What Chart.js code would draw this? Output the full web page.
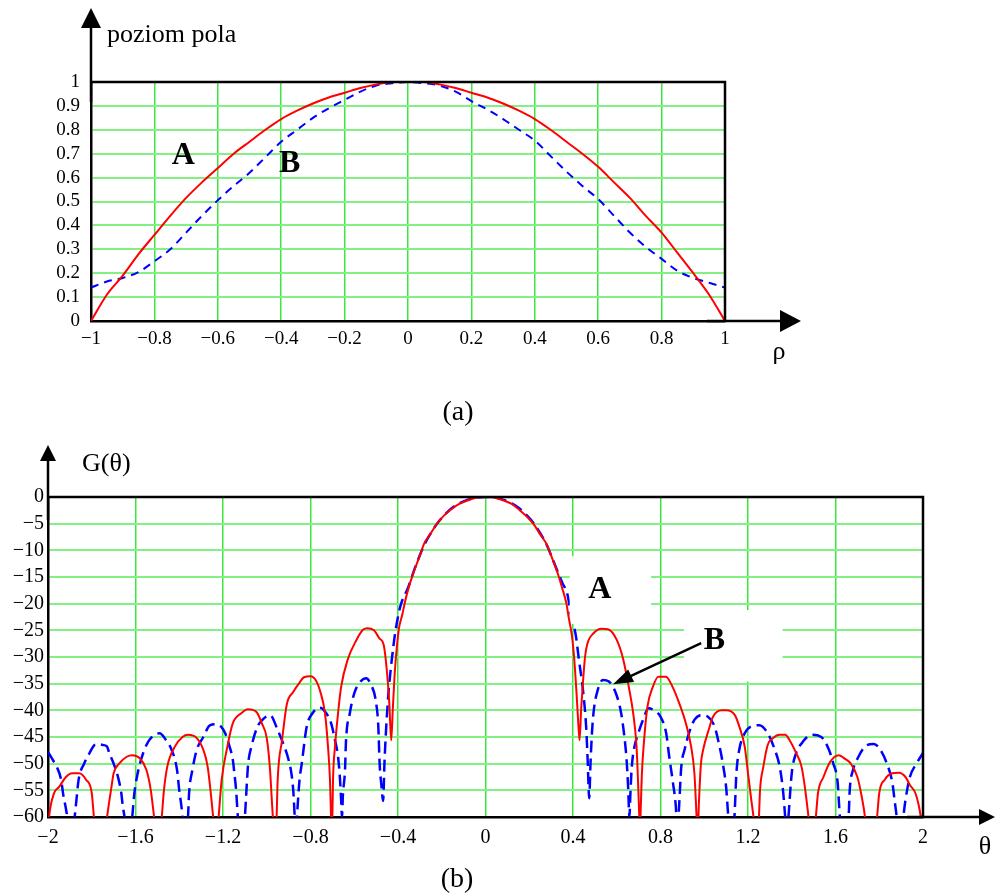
<!DOCTYPE html>
<html>
<head>
<meta charset="utf-8">
<script src="https://cdn.jsdelivr.net/npm/chart.js@4.4.1/dist/chart.umd.min.js"></script>
<style>
  html, body { margin: 0; padding: 0; background: #fff; }
  #wrap { position: relative; width: 995px; height: 895px; }
  canvas { position: absolute; left: 0; }
  #chartA { top: 0; }
  #chartB { top: 440px; }
</style>
</head>
<body>
<div id="wrap">
  <canvas id="chartA" width="995" height="440"></canvas>
  <canvas id="chartB" width="995" height="455"></canvas>
</div>
<script>
const SERIF = '"Liberation Serif", "Times New Roman", serif';
const RED = '#ff0000';
const BLUE = '#0000ff';
const GRID_V = '#3de83d';
const GRID_H = '#84f084';

// (a) field level across the aperture
const rhoValues = [-1, -0.95, -0.9, -0.85, -0.8, -0.75, -0.7, -0.65, -0.6, -0.55, -0.5, -0.45, -0.4, -0.35, -0.3, -0.25, -0.2, -0.15, -0.1, -0.05,
  0, 0.05, 0.1, 0.15, 0.2, 0.25, 0.3, 0.35, 0.4, 0.45, 0.5, 0.55, 0.6, 0.65, 0.7, 0.75, 0.8, 0.85, 0.9, 0.95, 1];
const levelA = [0, 0.11, 0.19, 0.28, 0.36, 0.44, 0.515, 0.58, 0.64, 0.70, 0.75, 0.80, 0.845, 0.88, 0.91, 0.935, 0.955, 0.975, 0.99, 1.0,
  1.0, 1.0, 0.99, 0.975, 0.955, 0.935, 0.91, 0.88, 0.845, 0.80, 0.75, 0.70, 0.645, 0.58, 0.515, 0.44, 0.37, 0.285, 0.20, 0.11, 0];
const levelB = [0.14, 0.165, 0.18, 0.205, 0.25, 0.30, 0.37, 0.44, 0.505, 0.565, 0.62, 0.685, 0.75, 0.80, 0.85, 0.89, 0.925, 0.96, 0.985, 0.995,
  1.0, 0.995, 0.985, 0.96, 0.92, 0.885, 0.845, 0.80, 0.755, 0.69, 0.625, 0.565, 0.51, 0.44, 0.37, 0.31, 0.26, 0.21, 0.18, 0.16, 0.14];
const rhoTicks = [-1, -0.8, -0.6, -0.4, -0.2, 0, 0.2, 0.4, 0.6, 0.8, 1];
const levelTicks = [0, 0.1, 0.2, 0.3, 0.4, 0.5, 0.6, 0.7, 0.8, 0.9, 1];

// (b) radiation pattern G(theta), dB
const thetaA = [
  -2.00, -1.995, -1.972, -1.95, -1.918, -1.89, -1.858, -1.826, -1.80, -1.79,
  -1.76, -1.73, -1.71, -1.70, -1.675, -1.64, -1.615, -1.58, -1.55, -1.53,
  -1.515, -1.497, -1.48, -1.47, -1.455, -1.42, -1.385, -1.36, -1.32, -1.29,
  -1.27, -1.245, -1.232, -1.22, -1.206, -1.18, -1.155, -1.115, -1.087, -1.047,
  -1.023, -1.00, -0.986, -0.972, -0.963, -0.955, -0.95, -0.93, -0.908, -0.88,
  -0.85, -0.83, -0.80, -0.775, -0.755, -0.734, -0.72, -0.711, -0.706, -0.703, -0.70,
  -0.697, -0.688, -0.674, -0.66, -0.63, -0.59, -0.56, -0.54, -0.51, -0.485,
  -0.465, -0.45, -0.44, -0.431, -0.424, -0.415, -0.405, -0.395, -0.38, -0.37,
  -0.35, -0.33, -0.30, -0.28, -0.25, -0.22, -0.19, -0.16, -0.12, -0.08,
  -0.04, 0,
  0.04, 0.08, 0.12, 0.16, 0.19, 0.22, 0.25, 0.28, 0.30, 0.33,
  0.35, 0.37, 0.38, 0.395, 0.405, 0.415, 0.425, 0.43, 0.437, 0.445,
  0.455, 0.465, 0.495, 0.53, 0.56, 0.60, 0.63, 0.655, 0.675, 0.69,
  0.697, 0.703, 0.706, 0.71, 0.715, 0.725, 0.74, 0.765, 0.79, 0.825,
  0.855, 0.885, 0.915, 0.94, 0.955, 0.965, 0.97, 0.975, 0.985, 0.995,
  1.02, 1.04, 1.08, 1.10, 1.14, 1.16, 1.185, 1.20, 1.215, 1.225,
  1.237, 1.25, 1.255, 1.27, 1.29, 1.315, 1.345, 1.37, 1.39, 1.42,
  1.445, 1.46, 1.475, 1.49, 1.51, 1.52, 1.545, 1.575, 1.615, 1.64,
  1.67, 1.70, 1.72, 1.735, 1.76, 1.79, 1.80, 1.825, 1.86, 1.89,
  1.92, 1.94, 1.965, 1.98, 1.99, 2.00
];
const gainA = [
  -63, -60, -55.5, -54.4, -52.5, -51.8, -51.8, -53, -55.5, -60,
  -70, -60, -54.4, -51.8, -50, -48.7, -48.4, -49, -51.2, -55,
  -60, -66, -60, -55, -50.6, -46.8, -45, -44.6, -45.2, -47.4,
  -50.6, -60, -66, -60, -53, -46.8, -42.4, -40.5, -39.8, -40.3,
  -42.4, -45.2, -50.6, -60, -64, -60, -53, -45.6, -38.8, -36.6,
  -34.8, -33.8, -33.6, -34.4, -36.5, -40.5, -46.8, -53, -60, -63, -60,
  -53, -46.8, -40.5, -35.6, -30.5, -26.8, -24.9, -24.6, -25, -26.5,
  -27.8, -33, -38.5, -45.6, -40, -33, -28, -24.5, -22, -20,
  -16.8, -14.3, -11, -8.7, -6.8, -4.9, -3.5, -2.4, -1.3, -0.6,
  -0.1, 0,
  -0.1, -0.6, -1.3, -2.6, -3.7, -5.1, -7, -8.9, -11, -14.3,
  -17, -20, -22.5, -26, -30, -36, -43, -45.6, -40, -35,
  -30, -27.6, -25.5, -24.7, -24.8, -26.8, -30.5, -35.6, -40.5, -46.5,
  -53, -60, -63, -58, -51.8, -45.6, -39.4, -35.6, -33.7, -33.7,
  -35.6, -38.6, -42.3, -46.8, -51.8, -60, -64, -58, -50, -47.4,
  -43.7, -41.2, -40, -40, -40.9, -43, -46.8, -51.8, -56.8, -60,
  -66, -60, -55, -50.6, -46.5, -45.2, -44.6, -44.6, -45.6, -48,
  -50.6, -54.4, -59.4, -65, -60, -55.5, -52.5, -49.7, -48.4, -49,
  -50, -52.5, -56.2, -60, -70, -60, -55.5, -53, -51.8, -51.7,
  -52.5, -54, -55.5, -57.7, -60, -63
];
const thetaB = [
  -2.00, -1.975, -1.96, -1.94, -1.93, -1.92, -1.912, -1.895, -1.878, -1.87,
  -1.86, -1.835, -1.81, -1.79, -1.775, -1.75, -1.73, -1.72, -1.70, -1.68,
  -1.665, -1.658, -1.65, -1.632, -1.615, -1.605, -1.59, -1.575, -1.55, -1.53,
  -1.49, -1.46, -1.435, -1.41, -1.40, -1.39, -1.385, -1.372, -1.36, -1.355,
  -1.34, -1.32, -1.29, -1.26, -1.23, -1.21, -1.19, -1.17, -1.155, -1.148,
  -1.14, -1.132, -1.115, -1.10, -1.09, -1.085, -1.07, -1.045, -1.02, -0.985,
  -0.95, -0.925, -0.90, -0.885, -0.878, -0.872, -0.866, -0.862, -0.85, -0.84,
  -0.817, -0.79, -0.76, -0.743, -0.706, -0.688, -0.674, -0.665, -0.66, -0.656,
  -0.652, -0.642, -0.638, -0.62, -0.60, -0.575, -0.546, -0.527, -0.50, -0.49,
  -0.484, -0.476, -0.468, -0.462, -0.455, -0.445, -0.435, -0.427, -0.413, -0.39,
  -0.353, -0.32, -0.28, -0.25, -0.22, -0.19, -0.16, -0.12, -0.08, -0.04,
  0,
  0.04, 0.08, 0.12, 0.16, 0.19, 0.22, 0.25, 0.28, 0.32, 0.35,
  0.376, 0.39, 0.413, 0.427, 0.445, 0.46, 0.467, 0.474, 0.48, 0.487,
  0.495, 0.513, 0.537, 0.564, 0.596, 0.62, 0.633, 0.645, 0.652, 0.658,
  0.662, 0.668, 0.68, 0.697, 0.72, 0.745, 0.77, 0.80, 0.826, 0.84,
  0.857, 0.87, 0.877, 0.885, 0.895, 0.91, 0.93, 0.955, 0.986, 1.017,
  1.047, 1.07, 1.085, 1.10, 1.11, 1.124, 1.138, 1.147, 1.16, 1.185,
  1.215, 1.252, 1.29, 1.32, 1.345, 1.36, 1.37, 1.378, 1.385, 1.40,
  1.42, 1.445, 1.49, 1.535, 1.57, 1.59, 1.61, 1.615, 1.62, 1.64,
  1.66, 1.665, 1.68, 1.705, 1.735, 1.775, 1.80, 1.835, 1.86, 1.87,
  1.88, 1.895, 1.91, 1.92, 1.94, 1.97, 2.00
];
const gainB = [
  -47.8, -49.5, -50.6, -53, -55.9, -58, -60, -66, -60, -56.8,
  -53, -50, -48, -46.6, -46.3, -46.5, -46.8, -48, -50, -52.5,
  -55.5, -58, -60, -66, -60, -55.5, -51.8, -49.3, -46.5, -45.2,
  -44.3, -45.6, -47.4, -51.2, -55, -58, -60, -65, -60, -55.5,
  -51.2, -47.4, -45, -42.8, -42.6, -43, -44.3, -46.8, -49.3, -51.8,
  -55, -60, -66, -60, -53, -50, -46.8, -43.3, -41.8, -40.9,
  -43.7, -46.2, -49.3, -52.5, -55.5, -60, -63, -60, -53, -50,
  -43, -40.5, -39.5, -39.8, -42.4, -45.6, -48.7, -53, -56.8, -60,
  -56, -51, -46, -40.5, -36.8, -34.8, -34, -34.9, -38.6, -43,
  -50, -54, -57, -50, -44, -37.5, -33, -30, -25.5, -20.6,
  -16.9, -13, -9, -6.8, -4.9, -3.5, -2.3, -1.2, -0.5, -0.1,
  0,
  -0.1, -0.5, -1.2, -2.3, -3.5, -4.9, -6.8, -9, -13, -16,
  -18.5, -22, -26, -30.5, -36, -43, -49.3, -56.5, -50, -44,
  -40, -36.2, -34.3, -34.6, -36.8, -40.5, -44.3, -49.3, -54.4, -60,
  -56, -51, -47, -44.5, -41.8, -39.6, -40, -41.2, -44.3, -48.7,
  -53.6, -58, -63, -58, -50.6, -47.4, -44.3, -41.8, -40.9, -41.2,
  -43, -46.8, -50, -54.4, -60, -66, -60, -51.8, -47.4, -44.3,
  -43, -42.8, -44.3, -47.1, -50.6, -55, -60, -64, -60, -51.8,
  -48, -46.2, -44.6, -45, -47.4, -50, -53.6, -56.8, -60, -66,
  -60, -55, -51.2, -48.7, -46.8, -46.3, -47.1, -50, -53.6, -56.8,
  -60, -65, -60, -56.8, -52.5, -50, -48
];
const thetaTicks = [-2, -1.6, -1.2, -0.8, -0.4, 0, 0.4, 0.8, 1.2, 1.6, 2];
const gainTicks = [0, -5, -10, -15, -20, -25, -30, -35, -40, -45, -50, -55, -60];

const toPoints = (xs, ys) => xs.map((x, i) => ({ x: x, y: ys[i] }));
const fmt = v => String(v).replace('-', '\u2212');

function arrowHead(ctx, tipX, tipY, dx, dy, len, half) {
  // dx, dy: unit direction the arrow points to
  const bx = tipX - dx * len, by = tipY - dy * len;
  ctx.beginPath();
  ctx.moveTo(tipX, tipY);
  ctx.lineTo(bx - dy * half, by + dx * half);
  ctx.lineTo(bx + dy * half, by - dx * half);
  ctx.closePath();
  ctx.fill();
}

function line(ctx, x1, y1, x2, y2, w) {
  ctx.lineWidth = w;
  ctx.beginPath();
  ctx.moveTo(x1, y1);
  ctx.lineTo(x2, y2);
  ctx.stroke();
}

function text(ctx, str, x, y, font, align, baseline) {
  ctx.font = font;
  ctx.textAlign = align || 'center';
  ctx.textBaseline = baseline || 'middle';
  ctx.fillText(str, x, y);
}

function axisOpts(ticks, size, padding, extra) {
  return Object.assign({
    type: 'linear',
    min: Math.min(...ticks),
    max: Math.max(...ticks),
    afterBuildTicks: s => { s.ticks = ticks.map(v => ({ value: v })); },
    border: { display: true, color: '#000', width: 2.5 },
    ticks: {
      autoSkip: false, maxRotation: 0, color: '#000', padding: padding,
      font: { family: SERIF, size: size },
      callback: v => fmt(v)
    }
  }, extra);
}

// ---------- chart (a) ----------
const framePluginA = {
  id: 'frameA',
  afterDraw(chart) {
    const { ctx, chartArea: a, scales } = chart;
    const { x, y } = scales;
    ctx.save();
    ctx.strokeStyle = '#000';
    ctx.fillStyle = '#000';
    ctx.lineWidth = 2.5;
    ctx.beginPath();
    ctx.moveTo(a.left, a.top);
    ctx.lineTo(a.right, a.top);
    ctx.lineTo(a.right, a.bottom);
    ctx.stroke();
    // vertical arrow
    line(ctx, a.left, a.top - 56, a.left, a.top + 20, 2.5);
    arrowHead(ctx, a.left, a.top - 74, 0, -1, 20, 10);
    // horizontal arrow
    line(ctx, a.right - 18, a.bottom, a.right + 58, a.bottom, 2.5);
    arrowHead(ctx, a.right + 76, a.bottom, 1, 0, 21, 11);
    text(ctx, 'poziom pola', a.left + 16, 42, '26px ' + SERIF, 'left', 'alphabetic');
    text(ctx, '\u03c1', a.right + 54, 352, '26px ' + SERIF);
    text(ctx, '(a)', 458, 413, '28px ' + SERIF);
    text(ctx, 'A', x.getPixelForValue(-0.709), y.getPixelForValue(0.69), 'bold 32px ' + SERIF);
    text(ctx, 'B', x.getPixelForValue(-0.373), y.getPixelForValue(0.66), 'bold 32px ' + SERIF);
    ctx.restore();
  }
};

new Chart(document.getElementById('chartA'), {
  type: 'line',
  data: {
    datasets: [
      { label: 'A', data: toPoints(rhoValues, levelA), borderColor: RED, borderWidth: 2, pointRadius: 0, cubicInterpolationMode: 'monotone' },
      { label: 'B', data: toPoints(rhoValues, levelB), borderColor: BLUE, borderWidth: 2, borderDash: [8, 6], pointRadius: 0, cubicInterpolationMode: 'monotone' }
    ]
  },
  options: {
    responsive: false,
    animation: false,
    layout: { padding: { left: 31, right: 270, top: 82, bottom: 79 } },
    plugins: { legend: { display: false }, tooltip: { enabled: false } },
    scales: {
      x: axisOpts(rhoTicks, 19, 7, {
        afterFit: s => { s.height = 40; },
        grid: { color: GRID_V, lineWidth: 1.5, drawTicks: false }
      }),
      y: axisOpts(levelTicks, 19, 11, {
        afterFit: s => { s.width = 60; },
        grid: { color: GRID_H, lineWidth: 2, drawTicks: false }
      })
    }
  },
  plugins: [framePluginA]
});

// ---------- chart (b) ----------
const framePluginB = {
  id: 'frameB',
  afterDatasetDraw(chart, args) {
    if (args.index !== 1) return;
    // white label boxes drawn over the grid and the dashed curve
    const { ctx, scales } = chart;
    const { x, y } = scales;
    ctx.save();
    ctx.fillStyle = '#fff';
    const box = (t1, t2, g1, g2) => {
      const x1 = x.getPixelForValue(t1), x2 = x.getPixelForValue(t2);
      const y1 = y.getPixelForValue(g1), y2 = y.getPixelForValue(g2);
      ctx.fillRect(x1, y1, x2 - x1, y2 - y1);
    };
    box(0.385, 0.757, -11.1, -23.8);
    box(0.908, 1.358, -21.2, -34.6);
    ctx.restore();
  },
  afterDraw(chart) {
    const { ctx, chartArea: a, scales } = chart;
    const { x, y } = scales;
    ctx.save();
    ctx.strokeStyle = '#000';
    ctx.fillStyle = '#000';
    ctx.lineWidth = 2.5;
    ctx.beginPath();
    ctx.moveTo(a.left, a.top);
    ctx.lineTo(a.right, a.top);
    ctx.lineTo(a.right, a.bottom);
    ctx.stroke();
    line(ctx, a.left, a.top - 38, a.left, a.top + 23, 2.5);
    arrowHead(ctx, a.left, a.top - 52, 0, -1, 16, 8);
    line(ctx, a.right - 16, a.bottom, a.right + 58, a.bottom, 2.5);
    arrowHead(ctx, a.right + 72, a.bottom, 1, 0, 16, 8);
    text(ctx, 'G(\u03b8)', 82, 31, '26px ' + SERIF, 'left', 'alphabetic');
    text(ctx, '\u03b8', 985, 407, '26px ' + SERIF);
    text(ctx, '(b)', 457, 447, '28px ' + SERIF, 'center', 'alphabetic');
    text(ctx, 'A', x.getPixelForValue(0.523), y.getPixelForValue(-17.4), 'bold 32px ' + SERIF);
    text(ctx, 'B', x.getPixelForValue(1.046), y.getPixelForValue(-27), 'bold 32px ' + SERIF);
    // pointer from B to the dashed side lobe
    const tx = x.getPixelForValue(0.583), ty = y.getPixelForValue(-35.1);
    const sx = x.getPixelForValue(0.986), sy = y.getPixelForValue(-27.4);
    const d = Math.hypot(tx - sx, ty - sy);
    const ux = (tx - sx) / d, uy = (ty - sy) / d;
    line(ctx, sx, sy, tx - ux * 14, ty - uy * 14, 2.5);
    arrowHead(ctx, tx, ty, ux, uy, 20, 7);
    ctx.restore();
  }
};

new Chart(document.getElementById('chartB'), {
  type: 'line',
  data: {
    datasets: [
      { label: 'A', data: toPoints(thetaA, gainA), borderColor: RED, borderWidth: 2, pointRadius: 0, cubicInterpolationMode: 'monotone' },
      { label: 'B', data: toPoints(thetaB, gainB), borderColor: BLUE, borderWidth: 2.5, borderDash: [12, 6], pointRadius: 0, cubicInterpolationMode: 'monotone' }
    ]
  },
  options: {
    responsive: false,
    animation: false,
    layout: { padding: { left: 8, right: 72, top: 57, bottom: 38 } },
    plugins: { legend: { display: false }, tooltip: { enabled: false } },
    scales: {
      x: axisOpts(thetaTicks, 20, 9, {
        afterFit: s => { s.height = 40; },
        grid: { color: GRID_V, lineWidth: 1.5, drawTicks: false }
      }),
      y: axisOpts(gainTicks, 20, 4, {
        afterFit: s => { s.width = 40; },
        grid: { color: GRID_H, lineWidth: 2, drawTicks: false }
      })
    }
  },
  plugins: [framePluginB]
});
</script>
</body>
</html>
